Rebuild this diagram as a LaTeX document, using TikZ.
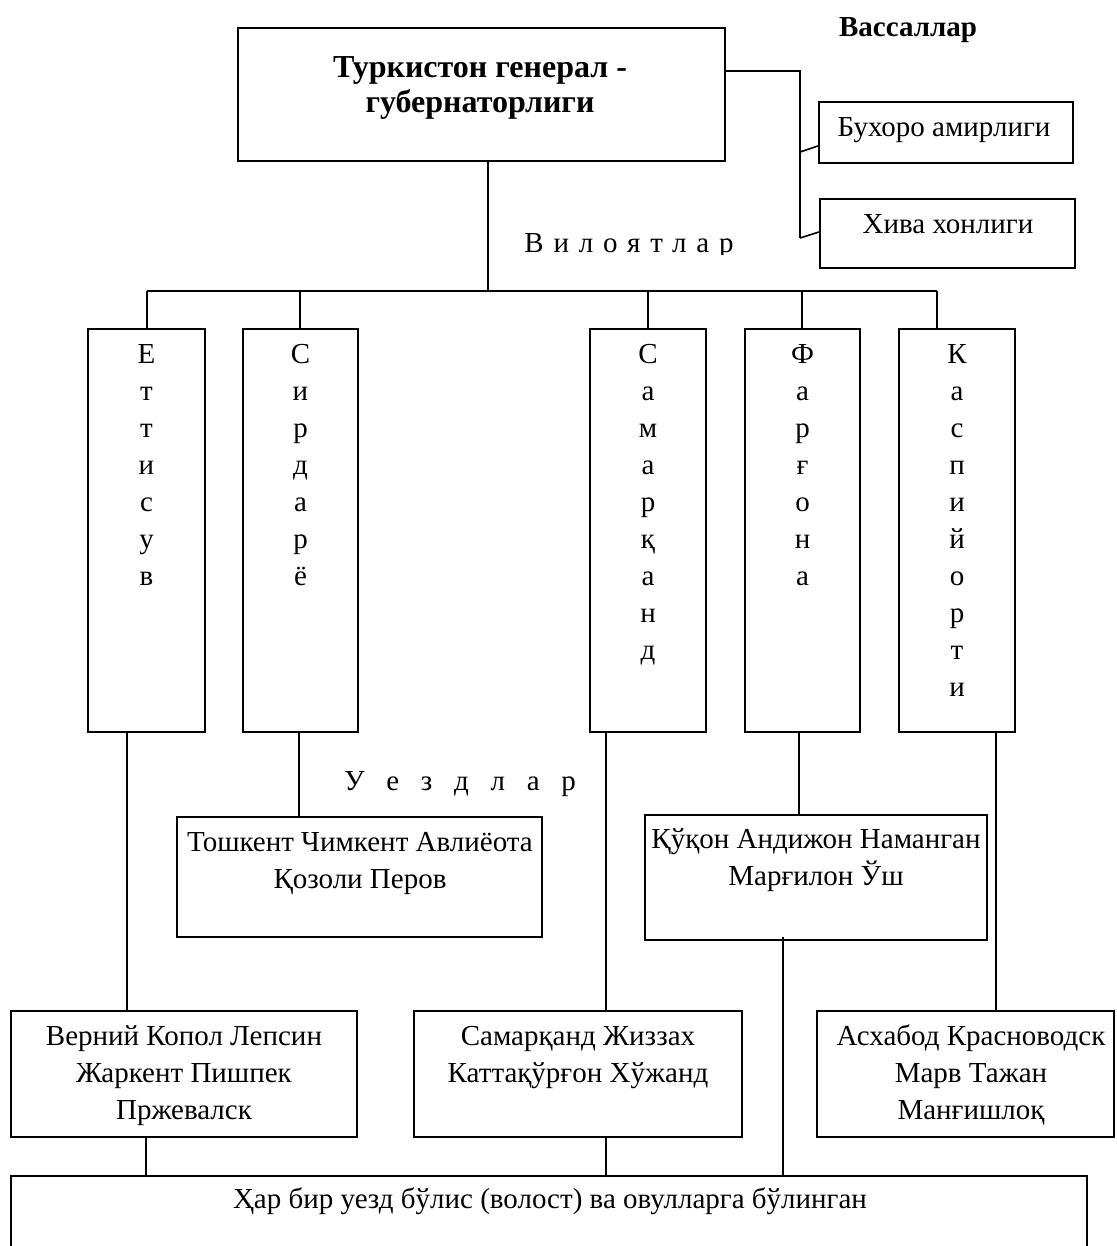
\documentclass[tikz,border=0pt]{standalone}
\usepackage{fontspec}
\setmainfont{Liberation Serif}
\newfontfamily\vilfont[LetterSpace=34]{Liberation Serif}
\newfontfamily\uezdfont[LetterSpace=50]{Liberation Serif}
\tikzset{
  box/.style={draw, line width=2.1pt, inner sep=0pt},
  txt/.style={align=center, inner sep=0pt, anchor=base, font=\fontsize{29}{37}\selectfont},
  conn/.style={line width=1.6pt},
}
\begin{document}
\begin{tikzpicture}[x=1pt,y=-1pt]
  \useasboundingbox (0,0) rectangle (1116,1246);
  % top level (base = last line)
  \node[box, minimum width=487pt, minimum height=133pt] (gov) at (481.5,94.5) {};
  \node[txt, font=\fontsize{32}{35}\selectfont\bfseries] (govT) at (480,113) {Туркистон генерал -\\губернаторлиги};
  \node[txt, font=\fontsize{29}{37}\selectfont\bfseries] (vassT) at (908,37) {Вассаллар};
  \node[box, minimum width=254pt, minimum height=61pt] (bukhoro) at (946,132.5) {};
  \node[txt] (bukhoroT) at (944,137) {Бухоро амирлиги};
  \node[box, minimum width=255pt, minimum height=69pt] (khiva) at (947.5,233.5) {};
  \node[txt] (khivaT) at (948,234) {Хива хонлиги};
  \coordinate (vj) at (800,71);
  \draw[conn] (gov.east |- vj) -- (vj) -- (800,238);
  \draw[conn] (800,152) -- (bukhoro.west |- 0,146);
  \draw[conn] (800,238) -- (khiva.west |- 0,232);
  \begin{scope}
    \clip (500,215) rectangle (760,255);
    \node[txt] (vilT) at (629,253) {\vilfont Вилоятлар};
  \end{scope}
  % viloyatlar
  \coordinate (bus) at (488,291);
  \draw[conn] (gov.south -| bus) -- (bus);
  \draw[conn] (147,291) -- (937,291);
  \node[box, minimum width=117pt, minimum height=403pt] (ettisuv) at (146.5,530.5) {};
  \node[box, minimum width=115pt, minimum height=403pt] (sirdaryo) at (300.5,530.5) {};
  \node[box, minimum width=116pt, minimum height=403pt] (samarqand) at (648,530.5) {};
  \node[box, minimum width=115pt, minimum height=403pt] (fargona) at (802.5,530.5) {};
  \node[box, minimum width=116pt, minimum height=403pt] (kaspiy) at (957,530.5) {};
  \foreach \n/\x in {ettisuv/147,sirdaryo/300,samarqand/648,fargona/802,kaspiy/937}
    \draw[conn] (\x,291) -- (\n.north -| \x,0);
  \node[txt] (ettisuvT) at (ettisuv.north |- 0,585) {Е\\т\\т\\и\\с\\у\\в};
  \node[txt] (sirdaryoT) at (sirdaryo.north |- 0,585) {С\\и\\р\\д\\а\\р\\ё};
  \node[txt] (samarqandT) at (samarqand.north |- 0,659) {С\\а\\м\\а\\р\\қ\\а\\н\\д};
  \node[txt] (fargonaT) at (fargona.north |- 0,585) {Ф\\а\\р\\ғ\\о\\н\\а};
  \node[txt] (kaspiyT) at (kaspiy.north |- 0,696) {К\\а\\с\\п\\и\\й\\о\\р\\т\\и};
  % uezdlar
  \node[txt] (uezdT) at (460,790) {\uezdfont У е з д л а р};
  \node[box, minimum width=365pt, minimum height=120pt] (toshkent) at (359.5,877) {};
  \node[txt] (toshkentT) at (360,888) {Тошкент Чимкент Авлиёота\\Қозоли Перов};
  \node[box, minimum width=342pt, minimum height=125pt] (qoqon) at (816,877.5) {};
  \node[txt] (qoqonT) at (816,885) {Қўқон Андижон Наманган\\Марғилон Ўш};
  \node[box, minimum width=346pt, minimum height=126pt] (verniy) at (184,1074) {};
  \node[txt] (verniyT) at (184,1119) {Верний Копол Лепсин\\Жаркент Пишпек\\Пржевалск};
  \node[box, minimum width=328pt, minimum height=126pt] (samq) at (578,1074) {};
  \node[txt] (samqT) at (578,1082) {Самарқанд Жиззах\\Каттақўрғон Хўжанд};
  \node[box, minimum width=297pt, minimum height=126pt] (askhabod) at (965.5,1074) {};
  \node[txt] (askhabodT) at (971,1119) {Асхабод Красноводск\\Марв Тажан\\Манғишлоқ};
  \draw[conn] (ettisuv.south -| 127,0) -- (verniy.north -| 127,0);
  \draw[conn] (sirdaryo.south -| 299,0) -- (toshkent.north -| 299,0);
  \draw[conn] (samarqand.south -| 606,0) -- (samq.north -| 606,0);
  \draw[conn] (fargona.south -| 799,0) -- (qoqon.north -| 799,0);
  \draw[conn] (kaspiy.south -| 996,0) -- (askhabod.north -| 996,0);
  % volost
  \node[box, minimum width=1076pt, minimum height=124pt] (bolis) at (549,1238) {};
  \node[txt] (bolisT) at (550,1208) {Ҳар бир уезд бўлис (волост) ва овулларга бўлинган};
  \draw[conn] (verniy.south -| 146,0) -- (bolis.north -| 146,0);
  \draw[conn] (samq.south -| 606,0) -- (bolis.north -| 606,0);
  \draw[conn] (783,937) -- (bolis.north -| 783,0);
\end{tikzpicture}
\end{document}
